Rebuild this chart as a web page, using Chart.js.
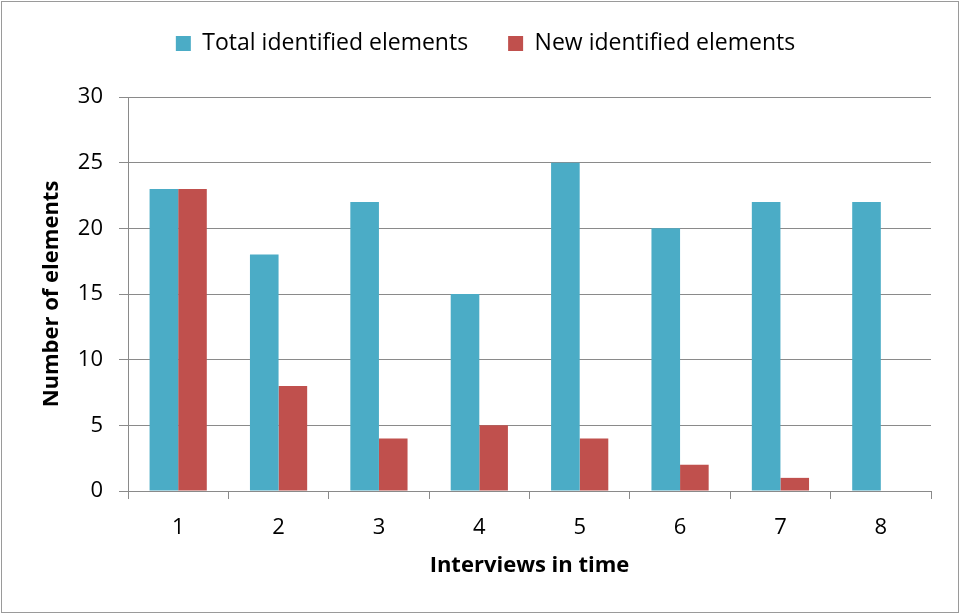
<!DOCTYPE html>
<html>
<head>
<meta charset="utf-8">
<script src="https://cdn.jsdelivr.net/npm/chart.js@4/dist/chart.umd.min.js"></script>
<style>
  html, body { margin: 0; padding: 0; background: #ffffff; }
  #wrap { width: 960px; height: 614px; position: relative; }
</style>
</head>
<body>
<div id="wrap"><canvas id="chart" width="960" height="614"></canvas></div>
<script>
// Interview number along the x axis
const interviews = ['1', '2', '3', '4', '5', '6', '7', '8'];
// Elements identified in each interview
const totalIdentified = [23, 18, 22, 15, 25, 20, 22, 22];
// Elements not seen in any earlier interview
const newIdentified = [23, 8, 4, 5, 4, 2, 1, 0];

const seriesNames = ['Total identified elements', 'New identified elements'];
const axisTitleX = 'Interviews in time';
const axisTitleY = 'Number of elements';

const FONT = '"Open Sans", Lato, "DejaVu Sans", sans-serif';
const GRID = '#8a8a8a';

// Thin frame around the whole figure
const framePlugin = {
  id: 'frame',
  beforeDraw(chart) {
    const c = chart.ctx;
    c.save();
    c.fillStyle = '#ffffff';
    c.fillRect(0, 0, chart.width, chart.height);
    c.restore();
  },
  afterDraw(chart) {
    const c = chart.ctx;
    c.save();
    c.strokeStyle = '#9a9a9a';
    c.lineWidth = 1;
    c.strokeRect(1.5, 1.5, chart.width - 3, chart.height - 3);
    c.restore();
  }
};

new Chart(document.getElementById('chart'), {
  type: 'bar',
  data: {
    labels: interviews,
    datasets: [
      {
        label: seriesNames[0],
        data: totalIdentified,
        backgroundColor: '#4bacc6',
        borderWidth: 0
      },
      {
        label: seriesNames[1],
        data: newIdentified,
        backgroundColor: '#c0504d',
        borderWidth: 0
      }
    ]
  },
  plugins: [framePlugin],
  options: {
    responsive: false,
    animation: false,
    devicePixelRatio: 1,
    layout: { padding: { top: -8, left: 20, right: 9, bottom: 0 } },
    datasets: {
      bar: { categoryPercentage: 0.57, barPercentage: 1.0 }
    },
    plugins: {
      legend: {
        position: 'top',
        align: 'center',
        labels: {
          color: '#000000',
          font: { family: FONT, size: 23 },
          boxWidth: 15,
          boxHeight: 15,
          padding: 40
        }
      },
      // empty spacer between the legend and the plot
      subtitle: {
        display: true,
        text: ' ',
        weight: 500,
        position: 'top',
        font: { size: 10 },
        padding: { top: 10, bottom: 10 }
      },
      tooltip: { enabled: false }
    },
    scales: {
      x: {
        type: 'category',
        offset: true,
        grid: {
          display: true,
          offset: true,
          drawOnChartArea: false,
          drawTicks: true,
          tickLength: 8,
          color: GRID,
          lineWidth: 1
        },
        border: { display: true, color: GRID, width: 1 },
        ticks: {
          color: '#000000',
          font: { family: FONT, size: 22 },
          padding: 16,
          maxRotation: 0
        },
        title: {
          display: true,
          text: axisTitleX,
          color: '#000000',
          font: { family: FONT, size: 22, weight: 'bold' },
          padding: { top: 0, bottom: 35 }
        },
        afterFit(scale) { scale.height = 123; }
      },
      y: {
        min: 0,
        max: 30,
        ticks: {
          stepSize: 5,
          color: '#000000',
          font: { family: FONT, size: 22 },
          padding: 16
        },
        grid: {
          color: GRID,
          lineWidth: 1,
          drawTicks: true,
          tickLength: 9
        },
        border: { display: true, color: GRID, width: 1 },
        title: {
          display: true,
          text: axisTitleY,
          color: '#000000',
          font: { family: FONT, size: 22, weight: 'bold' },
          padding: { top: 19, bottom: 0 }
        },
        afterFit(scale) { scale.width = 108; }
      },
      // blank margin on the right of the plot
      margin: {
        type: 'linear',
        position: 'right',
        display: true,
        grid: { display: false, drawTicks: false },
        border: { display: false },
        ticks: { display: false },
        title: { display: false },
        afterFit(scale) { scale.width = 20; }
      }
    }
  }
});
</script>
</body>
</html>
